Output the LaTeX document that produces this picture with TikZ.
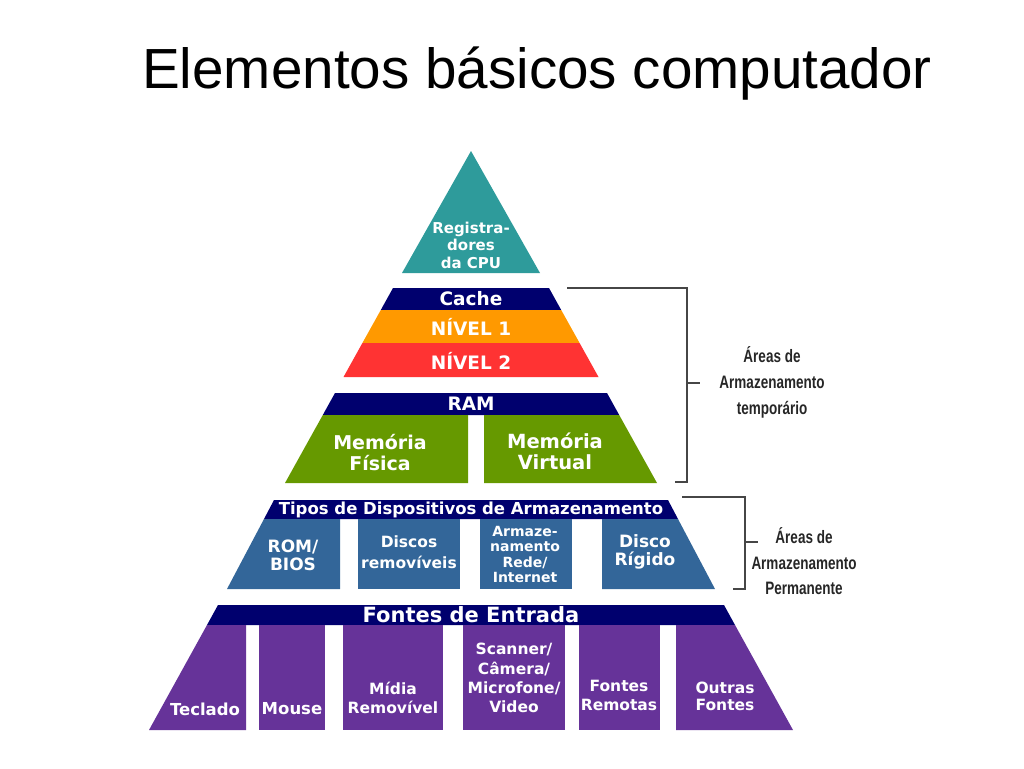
\documentclass[tikz,border=0pt]{standalone}
\usepackage{fontspec}
\setmainfont{Liberation Sans}
\newfontfamily\pyrfont{DejaVu Sans}
\newfontfamily\narrowfont[FakeStretch=0.75]{Liberation Sans}
\definecolor{cteal}{RGB}{46,155,155}
\definecolor{cnavy}{RGB}{0,0,110}
\definecolor{corange}{RGB}{255,153,0}
\definecolor{cred}{RGB}{255,51,51}
\definecolor{cgreen}{RGB}{102,153,0}
\definecolor{cblue}{RGB}{51,102,153}
\definecolor{cpurple}{RGB}{102,51,153}
\definecolor{cbrack}{RGB}{70,70,70}
\tikzset{
  lbl/.style={text=white, align=center, inner sep=0pt},
  sz/.style 2 args={font=\pyrfont\bfseries\fontsize{#1}{#2}\selectfont},
  brack/.style={draw=cbrack, line width=1.5pt},
  side/.style={text=black!85, align=center, inner sep=0pt, font=\narrowfont\bfseries\fontsize{18}{26}\selectfont}
}
\begin{document}
\begin{tikzpicture}[x=1pt,y=-1pt]
\useasboundingbox (0,0) rectangle (1024,768);
% title
\node[anchor=base, inner sep=0pt, font=\fontsize{56.6}{60}\selectfont] (title) at (537,88) {Elementos básicos computador};
% top triangle
\fill[cteal] (471,151) -- (540,273) -- (402,273) -- cycle;
\node[lbl, sz={15}{17.5}] (reg) at (471,245) {Registra-\\dores\\da CPU};
% cache
\fill[cnavy] (393,288) -- (549,288) -- (561.2,310) -- (380.8,310) -- cycle;
\fill[corange] (380.8,310) -- (561.2,310) -- (579.6,343) -- (362.4,343) -- cycle;
\fill[cred] (362.4,343) -- (579.6,343) -- (598.5,377) -- (343.5,377) -- cycle;
\node[lbl, sz={18.5}{20}] (cache) at (471,299) {Cache};
\node[lbl, sz={18.5}{20}] (n1) at (471,326.5) {NÍVEL 1};
\node[lbl, sz={18.5}{20}] (n2) at (471,361) {NÍVEL 2};
% RAM
\fill[cnavy] (335,393) -- (607,393) -- (619.2,415) -- (322.8,415) -- cycle;
\fill[cgreen] (322.8,415) -- (468,415) -- (468,483) -- (285,483) -- cycle;
\fill[cgreen] (484,415) -- (619.2,415) -- (657,483) -- (484,483) -- cycle;
\node[lbl, sz={18.5}{20}] (ram) at (471,404) {RAM};
\node[lbl, sz={19}{21}] (mf) at (380,453) {Memória\\Física};
\node[lbl, sz={19.5}{21}] (mv) at (555,451) {Memória\\Virtual};
% storage
\fill[cnavy] (274,500) -- (668,500) -- (678,519) -- (264,519) -- cycle;
\fill[cblue] (264,519) -- (340,519) -- (340,589) -- (227,589) -- cycle;
\fill[cblue] (358,519) rectangle (460,589);
\fill[cblue] (480,519) rectangle (572,589);
\fill[cblue] (602,519) -- (678,519) -- (715,589) -- (602,589) -- cycle;
\node[lbl, sz={16.5}{18}] (tipos) at (471,509.5) {Tipos de Dispositivos de Armazenamento};
\node[lbl, sz={17}{17.5}] (rom) at (293,555.5) {ROM/\\BIOS};
\node[lbl, sz={15.5}{21}] (disc) at (409,552) {Discos\\removíveis};
\node[lbl, sz={14}{15.5}] (arm) at (525,554.5) {Armaze-\\namento\\Rede/\\Internet};
\node[lbl, sz={17}{18.5}] (hd) at (645,552) {Disco\\Rígido};
% input sources
\fill[cnavy] (218,605) -- (724,605) -- (735,625) -- (207,625) -- cycle;
\fill[cpurple] (207,625) -- (246,625) -- (246,730) -- (149,730) -- cycle;
\fill[cpurple] (259,625) rectangle (325,730);
\fill[cpurple] (343,625) rectangle (443,730);
\fill[cpurple] (463,625) rectangle (565,730);
\fill[cpurple] (579,625) rectangle (660,730);
\fill[cpurple] (676,625) -- (735,625) -- (793,730) -- (676,730) -- cycle;
\node[lbl, sz={21}{22}] (fontes) at (471,615) {Fontes de Entrada};
\node[lbl, sz={16.5}{18.5}] (tec) at (205,709) {Teclado};
\node[lbl, sz={16.5}{18.5}] (mouse) at (292,709) {Mouse};
\node[lbl, sz={15.5}{18.5}] (midia) at (393,698) {Mídia\\Removível};
\node[lbl, sz={15.5}{19.3}] (scan) at (514,678) {Scanner/\\Câmera/\\Microfone/\\Video};
\node[lbl, sz={15.5}{19}] (rem) at (619,695.5) {Fontes\\Remotas};
\node[lbl, sz={15.5}{17.5}] (outras) at (725,696.5) {Outras\\Fontes};
% brackets
\coordinate (t1) at (567,288);
\coordinate (t2) at (687,288);
\coordinate (t3) at (687,482);
\coordinate (t4) at (675,482);
\coordinate (tm) at (687,383);
\coordinate (tt) at (700,383);
\draw[brack] (t1) -- (t2) -- (t3) -- (t4);
\draw[brack] (tm) -- (tt);
\node[side] (temp) at (772,382) {Áreas de\\Armazenamento\\temporário};
\coordinate (p1) at (682,497);
\coordinate (p2) at (745,497);
\coordinate (p3) at (745,589);
\coordinate (p4) at (733,589);
\coordinate (pm) at (745,542);
\coordinate (pt) at (758,542);
\draw[brack] (p1) -- (p2) -- (p3) -- (p4);
\draw[brack] (pm) -- (pt);
\node[side, font=\narrowfont\bfseries\fontsize{18}{25.5}\selectfont] (perm) at (804,561.5) {Áreas de\\Armazenamento\\Permanente};
\end{tikzpicture}
\end{document}
